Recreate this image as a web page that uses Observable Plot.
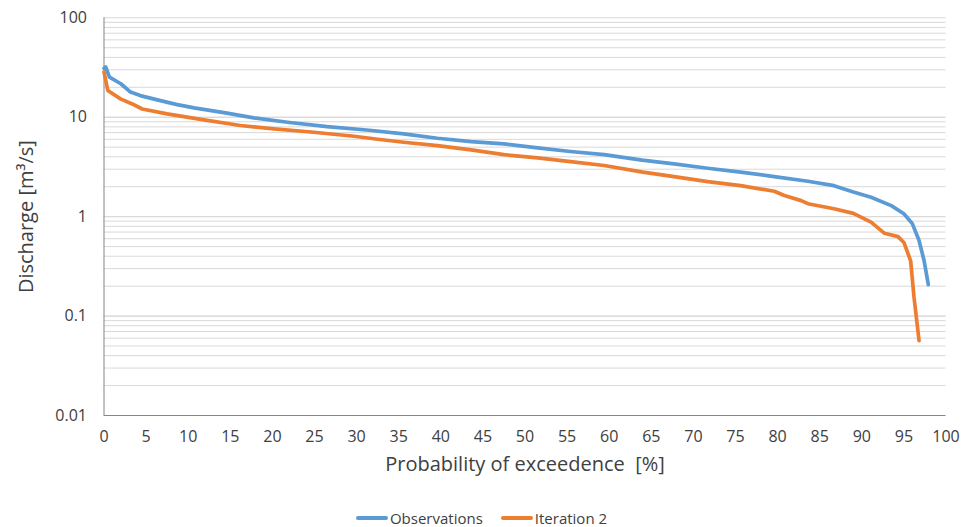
<!DOCTYPE html>
<html><head><meta charset="utf-8">
<script src="https://cdn.jsdelivr.net/npm/d3@7"></script>
<script src="https://cdn.jsdelivr.net/npm/@observablehq/plot@0.6"></script>
<style>
html,body{margin:0;padding:0;background:#fff;}
#chart{width:961px;}
.legend{display:flex;justify-content:center;gap:18px;font-family:"Open Sans",sans-serif;font-size:15px;color:#404040;height:27px;align-items:center;padding-top:4px;margin-left:2px;}
.legend span.sw{display:inline-block;width:32px;height:4px;border-radius:2px;margin-right:2px;vertical-align:middle;position:relative;top:-1px;}
</style></head>
<body><div id="chart"></div>
<script>
const obsP = [0, 0.2, 0.65, 2.0, 3.15, 4.3, 6.7, 8.7, 10.7, 14.6, 17.8, 21.8, 26.5, 31.5, 35.6, 39.6, 43.6, 47.5, 51.5, 55.4, 59.4, 63.9, 67.7, 71.7, 75.6, 79.6, 83.6, 86.7, 88.9, 91.1, 93.5, 95.0, 96.0, 96.8, 97.4, 97.9];
const obsQ = [31, 32, 25.3, 21.7, 17.9, 16.5, 14.7, 13.4, 12.4, 11.0, 9.86, 8.9, 8.05, 7.4, 6.8, 6.15, 5.69, 5.4, 4.92, 4.52, 4.21, 3.7, 3.4, 3.07, 2.8, 2.53, 2.27, 2.05, 1.78, 1.57, 1.29, 1.07, 0.85, 0.575, 0.36, 0.207];
const itP = [0, 0.45, 1.96, 3.35, 4.54, 7.5, 11.5, 16.2, 20.2, 24.9, 29.7, 32.5, 35.6, 39.6, 43.6, 47.5, 51.5, 55.4, 59.4, 64.0, 67.7, 71.7, 75.6, 79.6, 80.8, 82.8, 83.6, 86.7, 89.0, 91.1, 92.7, 94.3, 95.0, 95.8, 96.2, 96.8];
const itQ = [28.5, 18.6, 15.3, 13.6, 12.1, 10.8, 9.5, 8.26, 7.64, 7.06, 6.44, 6.0, 5.6, 5.19, 4.7, 4.2, 3.9, 3.58, 3.27, 2.8, 2.53, 2.25, 2.05, 1.8, 1.63, 1.45, 1.35, 1.2, 1.08, 0.88, 0.68, 0.63, 0.55, 0.36, 0.155, 0.0566];
const seriesNames = ["Observations", "Iteration 2"];
const seriesColors = ["#5B9BD5", "#ED7D31"];
const yTicks = [0.01, 0.1, 1, 10, 100];
const yTickLabels = ["0.01", "0.1", "1", "10", "100"];
const xTicks = d3.range(0, 101, 5);
const gridValues = [];
for (const d of [0.01, 0.1, 1, 10]) for (let k = 1; k <= 10; k++) gridValues.push(+(d * k).toPrecision(3));

const obs = obsP.map((p, i) => ({p, q: obsQ[i], s: seriesNames[0]}));
const it = itP.map((p, i) => ({p, q: itQ[i], s: seriesNames[1]}));

const font = '"Open Sans", sans-serif';
const chart = Plot.plot({
  width: 961, height: 500,
  marginLeft: 103.5, marginRight: 15.5, marginTop: 17.3, marginBottom: 85,
  style: {fontFamily: font, background: "#fff"},
  x: {domain: [0, 100], axis: null},
  y: {type: "log", domain: [0.01, 100], axis: null},
  marks: [
    Plot.ruleY(gridValues.filter(v => v > 0.01), {stroke: "#d9d9d9", strokeWidth: 1}),
    Plot.ruleX([0], {stroke: "#868686", strokeWidth: 1}),
    Plot.ruleY([0.01], {stroke: "#868686", strokeWidth: 1}),
    Plot.axisY({ticks: yTicks, tickSize: 0, tickPadding: 17, tickFormat: (d) => yTickLabels[yTicks.indexOf(d)], fontSize: 16, color: "#404040", label: null}),
    Plot.axisX({ticks: xTicks, tickSize: 0, tickPadding: 15, fontSize: 16, color: "#404040", label: null}),
    Plot.text(["Probability of exceedence  [%]"], {frameAnchor: "bottom", dy: 55, fontSize: 20, fill: "#404040", fontFamily: font}),
    Plot.text(["Discharge [m³/s]"], {frameAnchor: "left", dx: -77, rotate: -90, textAnchor: "middle", fontSize: 20, fill: "#404040", fontFamily: font}),
    Plot.line(obs, {x: "p", y: "q", stroke: seriesColors[0], strokeWidth: 3.7, curve: "linear"}),
    Plot.line(it, {x: "p", y: "q", stroke: seriesColors[1], strokeWidth: 3.7, curve: "linear"})
  ]
});
document.getElementById("chart").appendChild(chart);
const leg = document.createElement("div");
leg.className = "legend";
leg.innerHTML = seriesNames.map((n, i) => `<div><span class="sw" style="background:${seriesColors[i]}"></span>${n}</div>`).join("");
document.getElementById("chart").appendChild(leg);
</script></body></html>
